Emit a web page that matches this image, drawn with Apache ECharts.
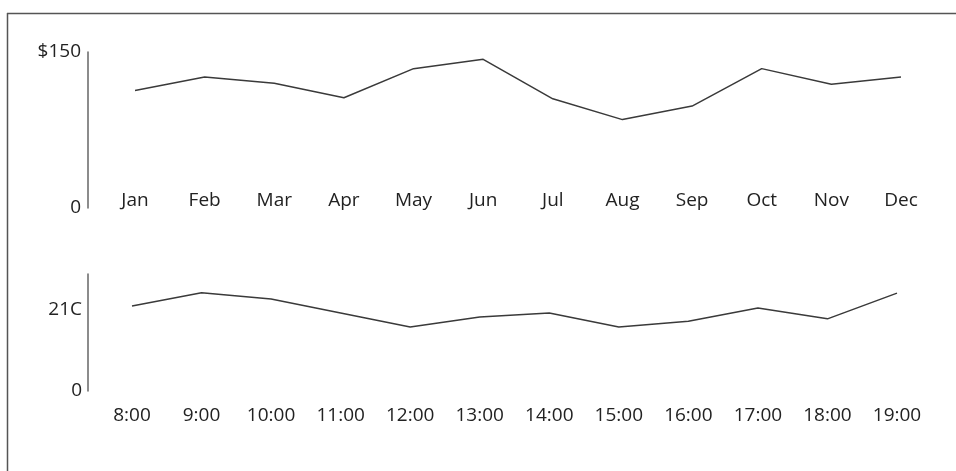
<!DOCTYPE html>
<html>
<head>
<meta charset="utf-8">
<script src="https://cdn.jsdelivr.net/npm/echarts@6/dist/echarts.min.js"></script>
<style>
html,body{margin:0;padding:0;background:#fff;}
#c{width:956px;height:471px;}
</style>
</head>
<body>
<div id="c"></div>
<script>
var months = ['Jan','Feb','Mar','Apr','May','Jun','Jul','Aug','Sep','Oct','Nov','Dec'];
var monthValues = [113, 126, 120, 106, 134, 143, 105, 85, 98, 134, 119, 126];
var hours = ['8:00','9:00','10:00','11:00','12:00','13:00','14:00','15:00','16:00','17:00','18:00','19:00'];
var hourValues = [21.8, 25.2, 23.6, 20, 16.4, 19, 20, 16.4, 17.9, 21.3, 18.5, 25.1];
var topTickLabels = {0: '0', 150: '$150'};
var bottomTickLabels = {0: '0', 21: '21C'};

var font = "'Open Sans', 'Noto Sans', sans-serif";
var txt = '#222';
var chart = echarts.init(document.getElementById('c'));
chart.setOption({
  animation: false,
  backgroundColor: '#fff',
  graphic: [
    {type: 'line', shape: {x1: 7, y1: 13.5, x2: 956, y2: 13.5}, style: {stroke: '#555', lineWidth: 1.5}},
    {type: 'line', shape: {x1: 7.5, y1: 13, x2: 7.5, y2: 471}, style: {stroke: '#555', lineWidth: 1.5}}
  ],
  grid: [
    {left: 135, right: 55, top: 52, bottom: 263},
    {left: 132, right: 59, top: 274, bottom: 80}
  ],
  xAxis: [
    {type: 'category', gridIndex: 0, data: months, boundaryGap: false, offset: -25,
     axisLine: {show: false}, axisTick: {show: false}, splitLine: {show: false},
     axisLabel: {margin: 8, fontFamily: font, fontSize: 19, color: txt}},
    {type: 'category', gridIndex: 1, data: hours, boundaryGap: false,
     axisLine: {show: false}, axisTick: {show: false}, splitLine: {show: false},
     axisLabel: {margin: 15, fontFamily: font, fontSize: 19, color: txt}}
  ],
  yAxis: [
    {type: 'value', gridIndex: 0, min: 0, max: 150, interval: 150, offset: 47,
     axisLine: {show: true, lineStyle: {color: '#666', width: 1.5}},
     axisTick: {show: false}, splitLine: {show: false},
     axisLabel: {margin: 7, fontFamily: font, fontSize: 19, color: txt,
       formatter: function(v){ return topTickLabels[v] !== undefined ? topTickLabels[v] : ''; }}},
    {type: 'value', gridIndex: 1, min: 0, max: 30, interval: 21, offset: 44,
     axisLine: {show: true, lineStyle: {color: '#666', width: 1.5}},
     axisTick: {show: false}, splitLine: {show: false},
     axisLabel: {margin: 6, fontFamily: font, fontSize: 19, color: txt,
       formatter: function(v){ return bottomTickLabels[v] !== undefined ? bottomTickLabels[v] : ''; }}}
  ],
  series: [
    {type: 'line', xAxisIndex: 0, yAxisIndex: 0, data: monthValues, symbol: 'none',
     lineStyle: {color: '#3a3a3a', width: 1.5}},
    {type: 'line', xAxisIndex: 1, yAxisIndex: 1, data: hourValues, symbol: 'none',
     lineStyle: {color: '#3a3a3a', width: 1.5}}
  ]
});
</script>
</body>
</html>
